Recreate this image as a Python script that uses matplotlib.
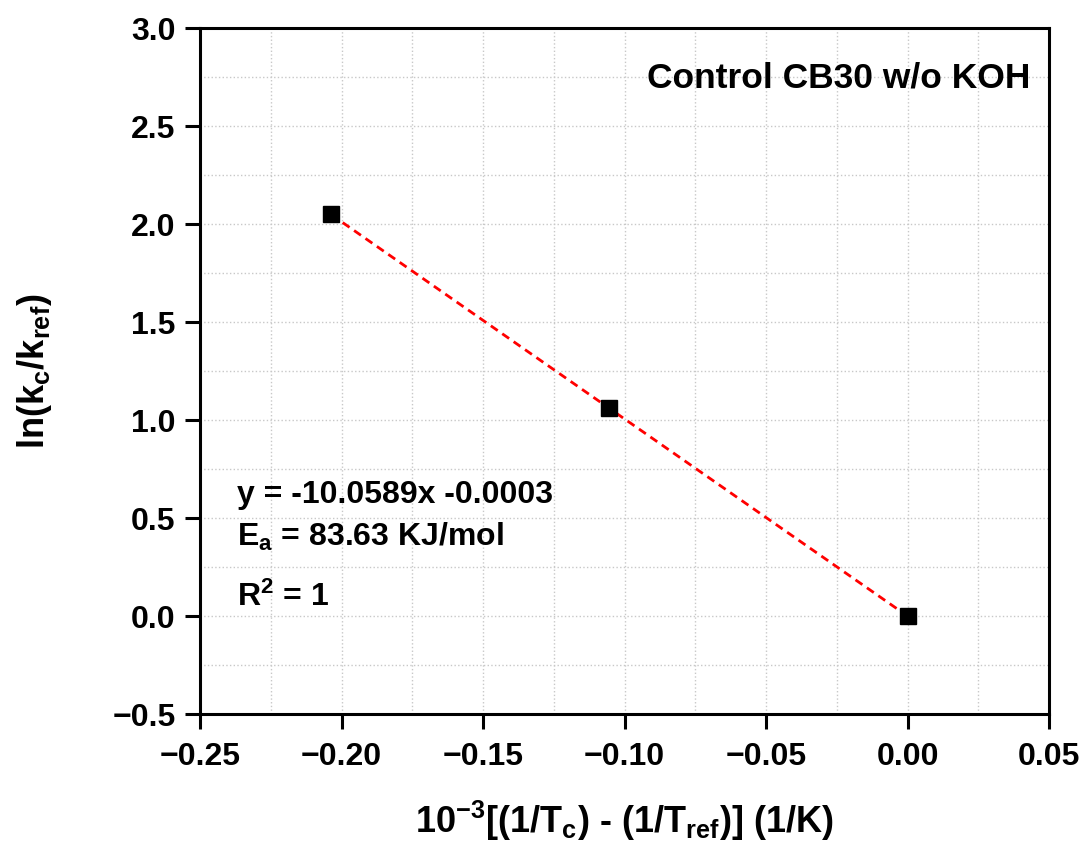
import matplotlib
matplotlib.use("Agg")
import matplotlib.pyplot as plt
import numpy as np
from matplotlib.ticker import MultipleLocator

plt.rcParams["font.family"] = ["Liberation Sans", "DejaVu Sans"]
plt.rcParams["font.weight"] = "bold"
plt.rcParams["mathtext.fontset"] = "custom"
plt.rcParams["mathtext.rm"] = "Liberation Sans:bold"
plt.rcParams["mathtext.it"] = "Liberation Sans:bold"
plt.rcParams["mathtext.bf"] = "Liberation Sans:bold"

# inverse temperature difference and ln ratio
inv_t = [-0.2036, -0.1054, 0.0]
ln_k = [2.05, 1.06, 0.0]

slope = -10.0589
intercept = -0.0003

fig = plt.figure(figsize=(10.9, 8.48), dpi=100)
ax = fig.add_axes([200/1090, 1 - 714/848, 849/1090, 686/848])

xfit = np.array([min(inv_t), max(inv_t)])
ax.plot(xfit, slope*xfit + intercept, color="red", ls=(0, (3, 2)), lw=2, zorder=2)
ax.plot(inv_t, ln_k, "s", color="black", ms=11, zorder=3)

ax.set_xlim(-0.25, 0.05)
ax.set_ylim(-0.5, 3.0)
ax.xaxis.set_major_locator(MultipleLocator(0.05))
ax.xaxis.set_minor_locator(MultipleLocator(0.025))
ax.yaxis.set_major_locator(MultipleLocator(0.5))
ax.yaxis.set_minor_locator(MultipleLocator(0.25))
ax.xaxis.set_major_formatter(plt.FuncFormatter(lambda v, p: "{:.2f}".format(v).replace("-", "\u2212")))
ax.yaxis.set_major_formatter(plt.FuncFormatter(lambda v, p: "{:.1f}".format(v).replace("-", "\u2212")))

ax.grid(which="both", color="#c8c8c8", ls=":", lw=1)
ax.set_axisbelow(True)
ax.tick_params(which="major", direction="out", length=10.5, width=2.2, labelsize=23)
ax.tick_params(axis="x", pad=10)
ax.tick_params(axis="y", pad=7)
ax.tick_params(which="minor", length=0)
for s in ax.spines.values():
  s.set_linewidth(2.2)

ax.set_xlabel(r"10$^{-3}$[(1/T$_{c}$) - (1/T$_{ref}$)] (1/K)", fontsize=26, fontweight="bold", labelpad=19)
ax.set_ylabel(r"ln(k$_{c}$/k$_{ref}$)", fontsize=26, fontweight="bold", labelpad=42)

ax.text(0.978, 0.927, "Control CB30 w/o KOH", transform=ax.transAxes,
  ha="right", va="center", fontsize=25.5, fontweight="bold")
ax.text(-0.237, 0.617, "y = -10.0589x -0.0003", fontsize=23, fontweight="bold", va="center")
ax.text(-0.237, 0.403, r"E$_{a}$ = 83.63 KJ/mol", fontsize=23, fontweight="bold", va="center")
ax.text(-0.237, 0.097, r"R$^{2}$ = 1", fontsize=23, fontweight="bold", va="center")

fig.savefig("out.png", dpi=100)
